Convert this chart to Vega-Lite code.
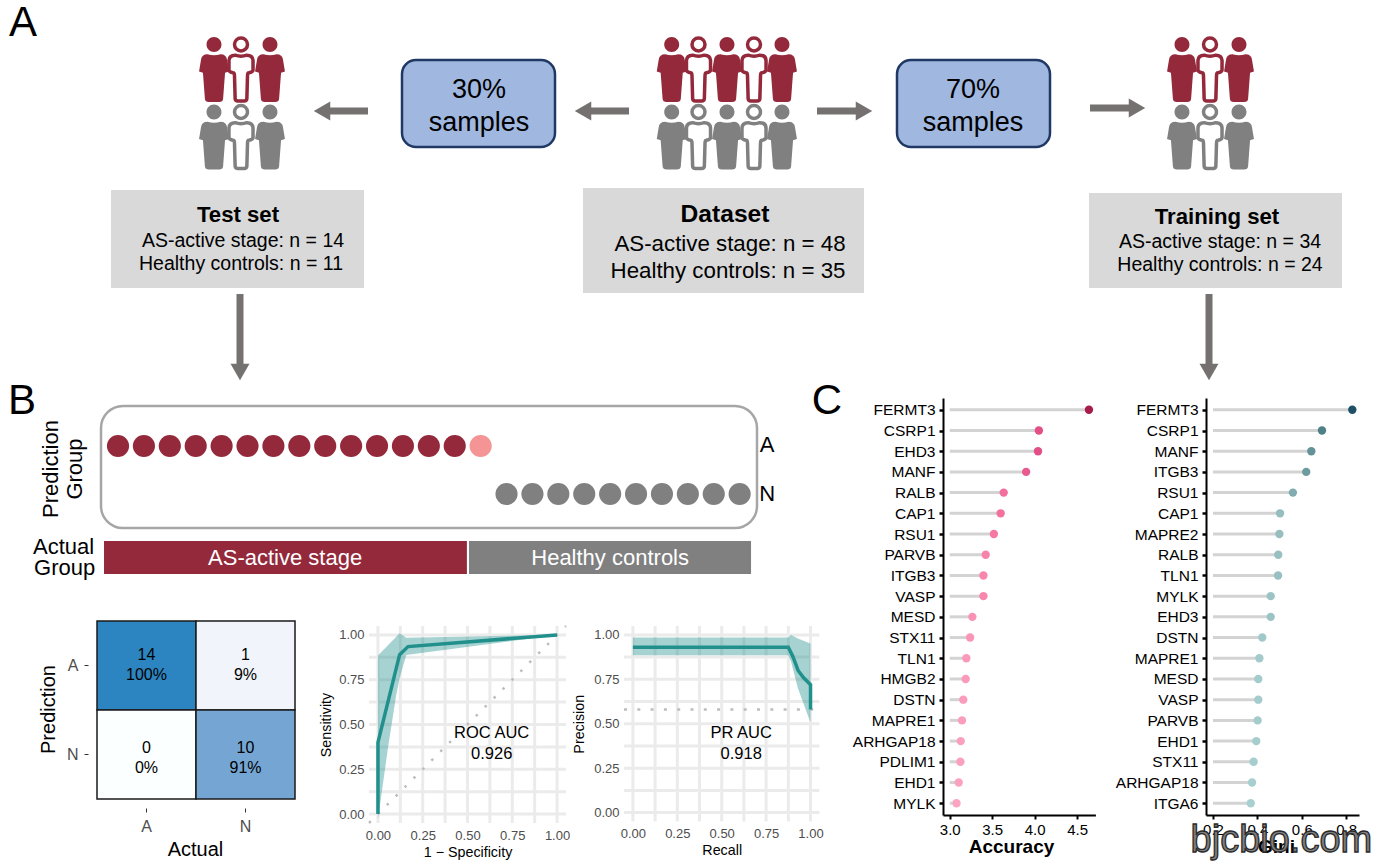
{
"$schema":"https://vega.github.io/schema/vega-lite/v6.json",
"padding":{"left":7,"top":0,"right":0,"bottom":0},
"background":"white",
"config":{"font":"Liberation Sans","view":{"stroke":null},"concat":{"spacing":0},"axis":{"labelFont":"Liberation Sans","titleFont":"Liberation Sans"}},
"datasets":{
"people":[
{"set":"Test","x":214,"y":69.5,"tone":"AS","form":"solid"},{"set":"Test","x":241,"y":69.5,"tone":"AS","form":"open"},{"set":"Test","x":270,"y":69.5,"tone":"AS","form":"solid"},
{"set":"Test","x":214,"y":137,"tone":"HC","form":"solid"},{"set":"Test","x":241,"y":137,"tone":"HC","form":"open"},{"set":"Test","x":270,"y":137,"tone":"HC","form":"solid"},
{"set":"Data","x":671.7,"y":69.5,"tone":"AS","form":"solid"},{"set":"Data","x":698.5,"y":69.5,"tone":"AS","form":"open"},{"set":"Data","x":727,"y":69.5,"tone":"AS","form":"solid"},{"set":"Data","x":754,"y":69.5,"tone":"AS","form":"open"},{"set":"Data","x":782,"y":69.5,"tone":"AS","form":"solid"},
{"set":"Data","x":671.7,"y":137,"tone":"HC","form":"solid"},{"set":"Data","x":698.5,"y":137,"tone":"HC","form":"open"},{"set":"Data","x":727,"y":137,"tone":"HC","form":"solid"},{"set":"Data","x":754,"y":137,"tone":"HC","form":"open"},{"set":"Data","x":782,"y":137,"tone":"HC","form":"solid"},
{"set":"Train","x":1182,"y":69.5,"tone":"AS","form":"solid"},{"set":"Train","x":1210,"y":69.5,"tone":"AS","form":"open"},{"set":"Train","x":1239,"y":69.5,"tone":"AS","form":"solid"},
{"set":"Train","x":1182,"y":137,"tone":"HC","form":"solid"},{"set":"Train","x":1210,"y":137,"tone":"HC","form":"open"},{"set":"Train","x":1239,"y":137,"tone":"HC","form":"solid"}
],
"arrows":[
{"x":368,"y":111,"xe":322,"ye":111,"a":270},
{"x":629,"y":111,"xe":583,"ye":111,"a":270},
{"x":817,"y":111,"xe":864,"ye":111,"a":90},
{"x":1090,"y":108,"xe":1137,"ye":108,"a":90},
{"x":240,"y":294,"xe":240,"ye":372,"a":180},
{"x":1209,"y":294,"xe":1209,"ye":372,"a":180}
],
"greyBoxes":[{"x":111,"x2":364,"y":190,"y2":288},{"x":583,"x2":864,"y":188,"y2":293},{"x":1089,"x2":1342,"y":193,"y2":288}],
"blueBoxes":[{"x":402,"x2":555,"y":60,"y2":147},{"x":897,"x2":1050,"y":60,"y2":147}],
"aText":[
{"x":23,"y":23,"t":"A","k":"letter"},{"x":827,"y":401,"t":"C","k":"letter"},
{"x":479,"y":90,"t":"30%","k":"pct"},{"x":479,"y":123,"t":"samples","k":"pct"},
{"x":973,"y":90,"t":"70%","k":"pct"},{"x":973,"y":123,"t":"samples","k":"pct"},
{"x":243,"y":241,"t":"AS-active stage: n = 14","k":"small"},{"x":241,"y":264,"t":"Healthy controls: n = 11","k":"small"},
{"x":730,"y":244,"t":"AS-active stage: n = 48","k":"big"},{"x":728,"y":271,"t":"Healthy controls: n = 35","k":"big"},
{"x":1220,"y":242,"t":"AS-active stage: n = 34","k":"small"},{"x":1220,"y":265,"t":"Healthy controls: n = 24","k":"small"}
],
"aBold":[{"x":238,"y":215,"t":"Test set","k":"smallBold"},{"x":725,"y":215,"t":"Dataset","k":"bigBold"},{"x":1217,"y":217,"t":"Training set","k":"smallBold"}],
"gridMarks":[{"g":0},{"g":0.125},{"g":0.25},{"g":0.375},{"g":0.5},{"g":0.625},{"g":0.75},{"g":0.875},{"g":1}],
"samples":[
{"sample":1,"pred":"A","out":"TP"},{"sample":2,"pred":"A","out":"TP"},{"sample":3,"pred":"A","out":"TP"},{"sample":4,"pred":"A","out":"TP"},{"sample":5,"pred":"A","out":"TP"},{"sample":6,"pred":"A","out":"TP"},{"sample":7,"pred":"A","out":"TP"},{"sample":8,"pred":"A","out":"TP"},{"sample":9,"pred":"A","out":"TP"},{"sample":10,"pred":"A","out":"TP"},{"sample":11,"pred":"A","out":"TP"},{"sample":12,"pred":"A","out":"TP"},{"sample":13,"pred":"A","out":"TP"},{"sample":14,"pred":"A","out":"TP"},{"sample":15,"pred":"A","out":"FP"},
{"sample":16,"pred":"N","out":"TN"},{"sample":17,"pred":"N","out":"TN"},{"sample":18,"pred":"N","out":"TN"},{"sample":19,"pred":"N","out":"TN"},{"sample":20,"pred":"N","out":"TN"},{"sample":21,"pred":"N","out":"TN"},{"sample":22,"pred":"N","out":"TN"},{"sample":23,"pred":"N","out":"TN"},{"sample":24,"pred":"N","out":"TN"},{"sample":25,"pred":"N","out":"TN"}
],
"cm":[
{"actual":"A","pred":"A","n":14,"pct":"100%"},{"actual":"N","pred":"A","n":1,"pct":"9%"},
{"actual":"A","pred":"N","n":0,"pct":"0%"},{"actual":"N","pred":"N","n":10,"pct":"91%"}
],
"accuracy":[
{"gene":"FERMT3","v":4.64},{"gene":"CSRP1","v":4.05},{"gene":"EHD3","v":4.04},{"gene":"MANF","v":3.9},{"gene":"RALB","v":3.636},{"gene":"CAP1","v":3.6},{"gene":"RSU1","v":3.52},{"gene":"PARVB","v":3.424},{"gene":"ITGB3","v":3.397},{"gene":"VASP","v":3.397},{"gene":"MESD","v":3.267},{"gene":"STX11","v":3.24},{"gene":"TLN1","v":3.196},{"gene":"HMGB2","v":3.188},{"gene":"DSTN","v":3.16},{"gene":"MAPRE1","v":3.145},{"gene":"ARHGAP18","v":3.13},{"gene":"PDLIM1","v":3.126},{"gene":"EHD1","v":3.106},{"gene":"MYLK","v":3.08}
],
"gini":[
{"gene":"FERMT3","v":0.8276},{"gene":"CSRP1","v":0.691},{"gene":"MANF","v":0.643},{"gene":"ITGB3","v":0.62},{"gene":"RSU1","v":0.56},{"gene":"CAP1","v":0.502},{"gene":"MAPRE2","v":0.499},{"gene":"RALB","v":0.494},{"gene":"TLN1","v":0.493},{"gene":"MYLK","v":0.46},{"gene":"EHD3","v":0.46},{"gene":"DSTN","v":0.422},{"gene":"MAPRE1","v":0.409},{"gene":"MESD","v":0.404},{"gene":"VASP","v":0.404},{"gene":"PARVB","v":0.401},{"gene":"EHD1","v":0.395},{"gene":"STX11","v":0.383},{"gene":"ARHGAP18","v":0.376},{"gene":"ITGA6","v":0.37}
]
},
"vconcat":[
{
"width":1281,"height":398,
"encoding":{
"x":{"field":"x","type":"quantitative","axis":null,"scale":{"domain":[97,1378],"nice":false,"zero":false}},
"y":{"field":"y","type":"quantitative","axis":null,"scale":{"domain":[0,398],"reverse":true,"nice":false,"zero":false}}
},
"layer":[
{"data":{"name":"greyBoxes"},"mark":{"type":"rect","fill":"#d9d9d9"},"encoding":{"x2":{"field":"x2"},"y2":{"field":"y2"}}},
{"data":{"name":"blueBoxes"},"mark":{"type":"rect","fill":"#a0b8e0","stroke":"#1f3864","strokeWidth":2.5,"cornerRadius":14},"encoding":{"x2":{"field":"x2"},"y2":{"field":"y2"}}},
{"data":{"name":"arrows"},"mark":{"type":"rule","color":"#767171","strokeWidth":7},"encoding":{"x2":{"field":"xe"},"y2":{"field":"ye"}}},
{"data":{"name":"arrows"},"mark":{"type":"point","shape":"triangle-up","filled":true,"fill":"#767171","opacity":1,"size":361},"encoding":{"x":{"field":"xe","type":"quantitative"},"y":{"field":"ye","type":"quantitative"},"angle":{"field":"a","type":"quantitative","scale":null}}},
{"data":{"name":"people"},"transform":[{"filter":"datum.form==='open'"}],"mark":{"type":"point","filled":true,"fill":"white","opacity":1,"strokeWidth":3.5,"size":4225,"shape":"M0,-0.97 C0.11,-0.97 0.2,-0.88 0.2,-0.77 C0.2,-0.66 0.11,-0.57 0,-0.57 C-0.11,-0.57 -0.2,-0.66 -0.2,-0.77 C-0.2,-0.88 -0.11,-0.97 0,-0.97 Z M-0.18,-0.44 Q0,-0.38 0.18,-0.44 Q0.36,-0.44 0.37,-0.28 L0.37,0.02 Q0.36,0.08 0.24,0.1 Q0.2,0.1 0.2,0.2 L0.18,0.9 Q0.17,0.97 0.1,0.97 L-0.1,0.97 Q-0.17,0.97 -0.18,0.9 L-0.2,0.2 Q-0.2,0.1 -0.24,0.1 Q-0.36,0.08 -0.37,0.02 L-0.37,-0.28 Q-0.36,-0.44 -0.18,-0.44 Z"},"encoding":{"stroke":{"field":"tone","type":"nominal","legend":null,"scale":{"domain":["AS","HC"],"range":["#93293a","#808080"]}}}},
{"data":{"name":"people"},"transform":[{"filter":"datum.form==='solid'"}],"mark":{"type":"point","filled":true,"opacity":1,"size":4225,"shape":"M0,-1 C0.127,-1 0.23,-0.897 0.23,-0.77 C0.23,-0.643 0.127,-0.54 0,-0.54 C-0.127,-0.54 -0.23,-0.643 -0.23,-0.77 C-0.23,-0.897 -0.127,-1 0,-1 Z M-0.2,-0.47 Q0,-0.4 0.2,-0.47 Q0.38,-0.47 0.4,-0.3 L0.46,0.06 L0.34,0.1 L0.28,0.9 Q0.27,1 0.16,1 L-0.16,1 Q-0.27,1 -0.28,0.9 L-0.34,0.1 L-0.46,0.06 L-0.4,-0.3 Q-0.38,-0.47 -0.2,-0.47 Z"},"encoding":{"fill":{"field":"tone","type":"nominal","legend":null,"scale":{"domain":["AS","HC"],"range":["#93293a","#808080"]}}}},
{"data":{"name":"aText"},"mark":{"type":"text","baseline":"middle","color":"black"},"encoding":{"text":{"field":"t"},"size":{"field":"k","type":"nominal","legend":null,"scale":{"type":"ordinal","domain":["letter","pct","small","big","smallBold","bigBold"],"range":[42,27,19.5,22.3,22.2,24.6]}}}},
{"data":{"name":"aBold"},"mark":{"type":"text","baseline":"middle","color":"black","fontWeight":"bold"},"encoding":{"text":{"field":"t"},"size":{"field":"k","type":"nominal","legend":null,"scale":{"type":"ordinal","domain":["letter","pct","small","big","smallBold","bigBold"],"range":[42,27,19.5,22.3,22.2,24.6]}}}}
]
},
{
"hconcat":[
{
"vconcat":[
{
"width":735.3,"height":228,
"resolve":{"scale":{"y":"independent"}},
"layer":[
{"data":{"values":[{"left":0.344,"right":25.67,"top":406,"bottom":528}]},"mark":{"type":"rect","fill":"white","stroke":"#a6a6a6","strokeWidth":2.5,"cornerRadius":22},"encoding":{
"x":{"field":"left","type":"quantitative","axis":null,"scale":{"domain":[0.189,28.577],"nice":false,"zero":false}},"x2":{"field":"right"},
"y":{"field":"top","type":"quantitative","axis":null,"scale":{"domain":[398,626],"reverse":true,"nice":false,"zero":false}},"y2":{"field":"bottom"}}},
{"data":{"name":"samples"},"mark":{"type":"circle","size":490,"opacity":1},"encoding":{
"x":{"field":"sample","type":"quantitative"},
"y":{"field":"pred","type":"ordinal","axis":null,"scale":{"type":"point","domain":["A","N"],"range":[48,96],"padding":0}},
"color":{"field":"out","type":"nominal","legend":null,"scale":{"domain":["TP","FP","TN"],"range":["#93293a","#f49494","#808080"]}}}},
{"data":{"values":[{"group":"AS-active stage","start":0.46,"end":14.47,"top":541,"bottom":574,"tone":"AS"},{"group":"Healthy controls","start":14.55,"end":25.44,"top":541,"bottom":574,"tone":"HC"}]},"mark":{"type":"rect"},"encoding":{
"x":{"field":"start","type":"quantitative"},"x2":{"field":"end"},
"y":{"field":"top","type":"quantitative","axis":null,"scale":{"domain":[398,626],"reverse":true,"nice":false,"zero":false}},"y2":{"field":"bottom"},
"fill":{"field":"tone","type":"nominal","legend":null,"scale":{"domain":["AS","HC"],"range":["#93293a","#808080"]}}}},
{"data":{"values":[{"t":"AS-active stage","x":7.45,"y":558},{"t":"Healthy controls","x":20.0,"y":558}]},"mark":{"type":"text","baseline":"middle","color":"white","fontSize":22},"encoding":{
"x":{"field":"x","type":"quantitative"},
"y":{"field":"y","type":"quantitative","axis":null,"scale":{"domain":[398,626],"reverse":true,"nice":false,"zero":false}},"text":{"field":"t"}}},
{"data":{"values":[{"t":"B","x":-2.71,"y":401}]},"mark":{"type":"text","baseline":"middle","color":"black","fontSize":42},"encoding":{
"x":{"field":"x","type":"quantitative"},
"y":{"field":"y","type":"quantitative","axis":null,"scale":{"domain":[398,626],"reverse":true,"nice":false,"zero":false}},"text":{"field":"t"}}},
{"data":{"values":[{"t":"A","x":26.06,"y":445},{"t":"N","x":26.06,"y":494},{"t":"Actual","x":-1.1,"y":547},{"t":"Group","x":-1.06,"y":568}]},"mark":{"type":"text","baseline":"middle","color":"black","fontSize":22},"encoding":{
"x":{"field":"x","type":"quantitative"},
"y":{"field":"y","type":"quantitative","axis":null,"scale":{"domain":[398,626],"reverse":true,"nice":false,"zero":false}},"text":{"field":"t"}}},
{"data":{"values":[{"t":"Prediction","x":-1.587,"y":469},{"t":"Group","x":-0.66,"y":469}]},"mark":{"type":"text","baseline":"middle","color":"black","fontSize":22,"angle":270},"encoding":{
"x":{"field":"x","type":"quantitative"},
"y":{"field":"y","type":"quantitative","axis":null,"scale":{"domain":[398,626],"reverse":true,"nice":false,"zero":false}},"text":{"field":"t"}}}
]
},
{
"hconcat":[
{
"width":214,"height":173,
"data":{"name":"cm"},
"encoding":{
"x":{"field":"actual","type":"nominal","title":"Actual","scale":{"type":"band","domain":["A","N"],"range":[0,198],"paddingInner":0,"paddingOuter":0},"axis":{"offset":9,"labelAngle":0,"domain":false,"tickSize":4,"tickColor":"#333333","labelColor":"#4d4d4d","labelFontSize":16,"titleFontSize":20,"titleFontWeight":"normal","titleColor":"black","labelPadding":6,"titlePadding":5,"grid":false,"titleX":98}},
"y":{"field":"pred","type":"nominal","title":"Prediction","scale":{"type":"band","domain":["N","A"],"range":[173,-5],"paddingInner":0,"paddingOuter":0},"axis":{"offset":9,"domain":false,"tickSize":4,"tickColor":"#333333","labelColor":"#4d4d4d","labelFontSize":16,"titleFontSize":20,"titleFontWeight":"normal","titleColor":"black","labelPadding":6,"titlePadding":8,"grid":false,"titleY":83}}
},
"layer":[
{"mark":{"type":"rect","stroke":"#1a1a1a","strokeWidth":1.5},"encoding":{"fill":{"field":"n","type":"quantitative","legend":null,"scale":{"domain":[0,1,10,14],"range":["#ffffff","#f1f5fb","#75a6d3","#2c85c0"]}}}},
{"transform":[{"filter":"datum.pred==='A'"}],"mark":{"type":"text","fontSize":16,"color":"black","dy":-11},"encoding":{"text":{"field":"n","type":"nominal"}}},
{"transform":[{"filter":"datum.pred==='A'"}],"mark":{"type":"text","fontSize":16,"color":"black","dy":9},"encoding":{"text":{"field":"pct","type":"nominal"}}},
{"transform":[{"filter":"datum.pred==='N'"}],"mark":{"type":"text","fontSize":16,"color":"black","dy":-7},"encoding":{"text":{"field":"n","type":"nominal"}}},
{"transform":[{"filter":"datum.pred==='N'"}],"mark":{"type":"text","fontSize":16,"color":"black","dy":13},"encoding":{"text":{"field":"pct","type":"nominal"}}}
]
},
{
"width":197,"height":197,
"layer":[
{"data":{"name":"gridMarks"},"mark":{"type":"rule","color":"#ebebeb","strokeWidth":3},"encoding":{"x":{"field":"g","type":"quantitative","title":"1 − Specificity","scale":{"domain":[-0.05,1.05],"nice":false,"zero":false},"axis":{"values":[0,0.25,0.5,0.75,1],"format":".2f","ticks":false,"domain":false,"grid":false,"labelColor":"#4d4d4d","labelFontSize":13,"labelPadding":6,"titleFontSize":14.3,"titleFontWeight":"normal","titleColor":"black","titlePadding":3,"labelOverlap":false}}}},
{"data":{"name":"gridMarks"},"mark":{"type":"rule","color":"#ebebeb","strokeWidth":3},"encoding":{"y":{"field":"g","type":"quantitative","title":"Sensitivity","scale":{"domain":[-0.05,1.05],"nice":false,"zero":false},"axis":{"values":[0,0.25,0.5,0.75,1],"format":".2f","ticks":false,"domain":false,"grid":false,"labelColor":"#4d4d4d","labelFontSize":13,"labelPadding":5,"titleFontSize":14.3,"titleFontWeight":"normal","titleColor":"black","titlePadding":5,"labelOverlap":false}}}},
{"data":{"values":[{"x":0,"lo":-0.03,"hi":0.885},{"x":0.056,"lo":0.37,"hi":0.943},{"x":0.102,"lo":0.665,"hi":0.99},{"x":0.121,"lo":0.76,"hi":1.01},{"x":0.158,"lo":0.888,"hi":0.985},{"x":1,"lo":1,"hi":1}]},"mark":{"type":"area","color":"#21908c","opacity":0.4},"encoding":{
"x":{"field":"x","type":"quantitative"},
"y":{"field":"lo","type":"quantitative"},
"y2":{"field":"hi"}}},
{"data":{"values":[{"a":-0.05,"b":1.05}]},"mark":{"type":"rule","color":"#bdbdbd","strokeWidth":2.5,"strokeDash":[2.5,10.1]},"encoding":{"x":{"field":"a","type":"quantitative"},"y":{"field":"a","type":"quantitative"},"x2":{"field":"b"},"y2":{"field":"b"}}},
{"data":{"values":[{"s":1,"x":0,"y":0},{"s":2,"x":0,"y":0.4},{"s":3,"x":0.121,"y":0.89},{"s":4,"x":0.168,"y":0.935},{"s":5,"x":1,"y":1}]},"mark":{"type":"line","color":"#21908c","strokeWidth":3.5},"encoding":{"x":{"field":"x","type":"quantitative"},"y":{"field":"y","type":"quantitative"},"order":{"field":"s"}}},
{"data":{"values":[{"t":"ROC AUC","x":0.635,"y":0.45},{"t":"0.926","x":0.635,"y":0.335}]},"mark":{"type":"text","fontSize":16.5,"color":"black","baseline":"middle"},"encoding":{"x":{"field":"x","type":"quantitative"},"y":{"field":"y","type":"quantitative"},"text":{"field":"t"}}}
]
},
{
"width":195.4,"height":195.5,
"layer":[
{"data":{"name":"gridMarks"},"mark":{"type":"rule","color":"#ebebeb","strokeWidth":3},"encoding":{"x":{"field":"g","type":"quantitative","title":"Recall","scale":{"domain":[-0.05,1.05],"nice":false,"zero":false},"axis":{"values":[0,0.25,0.5,0.75,1],"format":".2f","ticks":false,"domain":false,"grid":false,"labelColor":"#4d4d4d","labelFontSize":13,"labelPadding":6,"titleFontSize":14.3,"titleFontWeight":"normal","titleColor":"black","titlePadding":3,"labelOverlap":false}}}},
{"data":{"name":"gridMarks"},"mark":{"type":"rule","color":"#ebebeb","strokeWidth":3},"encoding":{"y":{"field":"g","type":"quantitative","title":"Precision","scale":{"domain":[-0.05,1.05],"nice":false,"zero":false},"axis":{"values":[0,0.25,0.5,0.75,1],"format":".2f","ticks":false,"domain":false,"grid":false,"labelColor":"#4d4d4d","labelFontSize":13,"labelPadding":5,"titleFontSize":14.3,"titleFontWeight":"normal","titleColor":"black","titlePadding":7,"labelOverlap":false}}}},
{"data":{"values":[{"x":0,"lo":0.885,"hi":0.985},{"x":0.875,"lo":0.885,"hi":0.985},{"x":0.89,"lo":0.85,"hi":1.0},{"x":0.929,"lo":0.7,"hi":0.98},{"x":0.995,"lo":0.52,"hi":0.953},{"x":1,"lo":0.512,"hi":0.95}]},"mark":{"type":"area","color":"#21908c","opacity":0.4},"encoding":{
"x":{"field":"x","type":"quantitative"},
"y":{"field":"lo","type":"quantitative"},
"y2":{"field":"hi"}}},
{"data":{"values":[{"a":-0.05,"b":1.05,"base":0.58}]},"mark":{"type":"rule","color":"#bdbdbd","strokeWidth":2.5,"strokeDash":[3,10.3]},"encoding":{"x":{"field":"a","type":"quantitative"},"x2":{"field":"b"},"y":{"field":"base","type":"quantitative"}}},
{"data":{"values":[{"s":1,"x":0,"y":0.93},{"s":2,"x":0.875,"y":0.93},{"s":3,"x":0.9,"y":0.88},{"s":4,"x":0.93,"y":0.8},{"s":5,"x":0.96,"y":0.76},{"s":6,"x":1,"y":0.72},{"s":7,"x":1,"y":0.58}]},"mark":{"type":"line","color":"#21908c","strokeWidth":3.5},"encoding":{"x":{"field":"x","type":"quantitative"},"y":{"field":"y","type":"quantitative"},"order":{"field":"s"}}},
{"data":{"values":[{"t":"PR AUC","x":0.61,"y":0.45},{"t":"0.918","x":0.61,"y":0.33}]},"mark":{"type":"text","fontSize":16.5,"color":"black","baseline":"middle"},"encoding":{"x":{"field":"x","type":"quantitative"},"y":{"field":"y","type":"quantitative"},"text":{"field":"t"}}}
]
}
],
"bounds":"flush","spacing":58
}
],
"bounds":"flush","spacing":0
},
{
"width":152.4,"height":417,
"data":{"name":"accuracy"},
"encoding":{
"y":{"field":"gene","type":"nominal","sort":null,"title":null,"scale":{"type":"point","padding":0.57},"axis":{"domainColor":"black","domainWidth":2,"tickColor":"black","tickWidth":2.5,"tickSize":4,"labelColor":"black","labelFontSize":15.5,"labelPadding":4,"grid":false}}
},
"layer":[
{"mark":{"type":"rule","color":"#d3d3d3","strokeWidth":3},"encoding":{
"x":{"field":"v","type":"quantitative","title":"Accuracy","scale":{"domain":[2.921,4.716],"nice":false,"zero":false},"axis":{"values":[3,3.5,4,4.5],"format":".1f","domainColor":"black","domainWidth":2,"tickColor":"black","tickWidth":2,"tickSize":4,"labelColor":"black","labelFontSize":15,"labelPadding":3,"titleFontSize":19,"titleFontWeight":"bold","titleColor":"black","titlePadding":0,"grid":false,"titleX":68}},
"x2":{"datum":3}}},
{"mark":{"type":"circle","size":70,"opacity":1},"encoding":{
"x":{"field":"v","type":"quantitative"},
"color":{"field":"v","type":"quantitative","legend":null,"scale":{"domain":[3.08,3.6,4.05,4.64],"range":["#fca4c2","#f4719f","#e24e85","#a81c4d"]}}}}
]
},
{
"width":153,"height":417,
"data":{"name":"gini"},
"encoding":{
"y":{"field":"gene","type":"nominal","sort":null,"title":null,"scale":{"type":"point","padding":0.57},"axis":{"domainColor":"black","domainWidth":2,"tickColor":"black","tickWidth":2.5,"tickSize":4,"labelColor":"black","labelFontSize":15.5,"labelPadding":4,"grid":false}}
},
"layer":[
{"mark":{"type":"rule","color":"#d3d3d3","strokeWidth":3},"encoding":{
"x":{"field":"v","type":"quantitative","title":"Gini","scale":{"domain":[0.1685,0.8577],"nice":false,"zero":false},"axis":{"values":[0.2,0.4,0.6,0.8],"format":".1f","domainColor":"black","domainWidth":2,"tickColor":"black","tickWidth":2,"tickSize":4,"labelColor":"black","labelFontSize":15,"labelPadding":3,"titleFontSize":19,"titleFontWeight":"bold","titleColor":"black","titlePadding":0,"grid":false,"titleX":70}},
"x2":{"datum":0.2}}},
{"mark":{"type":"circle","size":70,"opacity":1},"encoding":{
"x":{"field":"v","type":"quantitative"},
"color":{"field":"v","type":"quantitative","legend":null,"scale":{"domain":[0.37,0.5,0.62,0.69,0.8276],"range":["#a9d0d0","#97bfc0","#6e9ba0","#4e8088","#1d4f66"]}}}},
{"data":{"values":[{"t":"bjcbio.com","v":0.508,"gene":"ITGA6"}]},"mark":{"type":"text","fontSize":38,"fill":"#7f7f7f","stroke":"#2b2b2b","strokeWidth":1.3,"dy":38,"baseline":"middle"},"encoding":{"x":{"field":"v","type":"quantitative"},"text":{"field":"t"}}}
]
}
],
"spacing":19
}
],
"bounds":"flush","spacing":0
}
